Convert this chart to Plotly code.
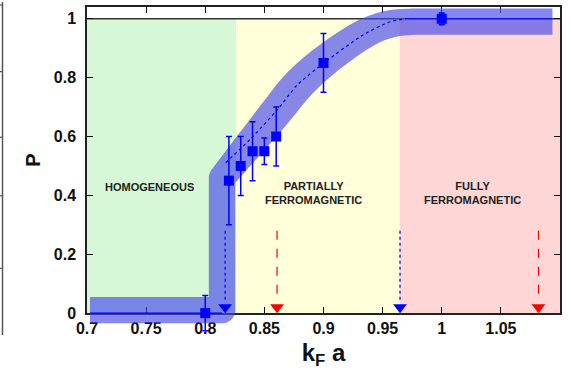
import math
import plotly.graph_objects as go

# Measured polarization P against k_F a, with error bars
kfa = [0.80, 0.82, 0.83, 0.84, 0.85, 0.86, 0.90, 1.00]
pol = [0.00, 0.45, 0.50, 0.55, 0.55, 0.60, 0.85, 1.00]
pol_err = [0.06, 0.15, 0.10, 0.10, 0.045, 0.10, 0.10, 0.02]

# Centre line of the broad guide band
band_x = [0.7025, 0.8142, 0.8142, 0.8378, 0.8608, 0.8777, 0.8996, 0.9334, 0.9562, 0.975, 1.0936]
band_p = [0.01, 0.01, 0.46, 0.575, 0.6875, 0.775, 0.855, 0.951, 0.985, 0.99, 0.99]
# half thickness of the band along the centre line, in pixels
band_half_px = [13.2, 13.2, 13.2, 15.0, 16.5, 16.5, 16.0, 15.0, 13.8, 13.2, 13.2]

# thin guide curve: dotted over the rise, solid on the plateaus
guide_x = [0.8173, 0.8378, 0.8608, 0.8777, 0.90, 0.9334, 0.9562, 0.97]
guide_p = [0.511, 0.59, 0.69, 0.775, 0.849, 0.945, 0.99, 1.0]
low_plateau_x = [0.7025, 0.8142]
high_plateau_x = [0.97, 1.0936]

# Phase regions
phase_edges = [0.70, 0.826, 0.9645, 1.10]
phase_names = ["HOMOGENEOUS", "PARTIALLY<br>FERROMAGNETIC", "FULLY<br>FERROMAGNETIC"]

# Critical k_F a values marked with arrows
crit_x = [0.8168, 0.8607, 0.9647, 1.0818]
crit_kind = ["blue", "red", "blue", "red"]

# Axis ticks
x_ticks = [0.7, 0.75, 0.8, 0.85, 0.9, 0.95, 1.0, 1.05, 1.1]
x_ticktext = ["0.7", "0.75", "0.8", "0.85", "0.9", "0.95", "1", "1.05", "1.1"]
y_ticks = [0, 0.2, 0.4, 0.6, 0.8, 1.0]
y_ticktext = ["0", "0.2", "0.4", "0.6", "0.8", "1"]

W, H = 571, 372
ML, MR, MT, MB = 87, 11, 5, 39
PLOT_W = W - ML - MR
PLOT_H = H - MT - MB
AXIS_PX = 313              # pixel row of the P = 0 axis
X_RANGE = [0.7, 1.1]
Y_TOP = 1.04
y_dom0 = (H - MB - AXIS_PX) / PLOT_H
py_per_unit = (AXIS_PX - MT) / Y_TOP
px_per_unit = PLOT_W / (X_RANGE[1] - X_RANGE[0])
y2_low = Y_TOP - PLOT_H / py_per_unit

FONT = "Liberation Sans, Arial, sans-serif"
BLUE = "#0000ff"
RED = "#ff0000"
REGION_COLORS = ["#d6f8d6", "#ffffd9", "#ffd6d6"]


def chaikin(xs, ys, ws, start, stop, passes=2):
    """Corner-cutting on the section start..stop so the rise is drawn smoothly."""
    sx, sy, sw = xs[start:stop + 1], ys[start:stop + 1], ws[start:stop + 1]
    for _ in range(passes):
        nx, ny, nw = [sx[0]], [sy[0]], [sw[0]]
        for i in range(len(sx) - 1):
            for t in (0.25, 0.75):
                nx.append(sx[i] + t * (sx[i + 1] - sx[i]))
                ny.append(sy[i] + t * (sy[i + 1] - sy[i]))
                nw.append(sw[i] + t * (sw[i + 1] - sw[i]))
        nx.append(sx[-1]); ny.append(sy[-1]); nw.append(sw[-1])
        sx, sy, sw = nx, ny, nw
    return (xs[:start] + sx + xs[stop + 1:], ys[:start] + sy + ys[stop + 1:],
            ws[:start] + sw + ws[stop + 1:])


def band_outline(xs, ps, half_px, round_deg=20, arc_step=6):
    """Outline of a variable-width stroke: mitred inner corners, round outer corners."""
    X = [x * px_per_unit for x in xs]
    Y = [p * py_per_unit for p in ps]
    n = len(X)
    dirs = []
    for i in range(n - 1):
        dx, dy = X[i + 1] - X[i], Y[i + 1] - Y[i]
        L = math.hypot(dx, dy)
        dirs.append((dx / L, dy / L))
    left, right = [], []
    for i in range(n):
        h = half_px[i]
        if i == 0 or i == n - 1:
            d = dirs[0] if i == 0 else dirs[-1]
            nx, ny = -d[1], d[0]
            left.append((X[i] + h * nx, Y[i] + h * ny))
            right.append((X[i] - h * nx, Y[i] - h * ny))
            continue
        da, db = dirs[i - 1], dirs[i]
        na, nb = (-da[1], da[0]), (-db[1], db[0])
        dot = da[0] * db[0] + da[1] * db[1]
        cross = da[0] * db[1] - da[1] * db[0]
        mx, my = (na[0] + nb[0]) * h / (1 + dot), (na[1] + nb[1]) * h / (1 + dot)
        turn = math.degrees(math.acos(max(-1.0, min(1.0, dot))))
        if turn < round_deg:
            left.append((X[i] + mx, Y[i] + my))
            right.append((X[i] - mx, Y[i] - my))
            continue
        a0, a1 = math.atan2(na[1], na[0]), math.atan2(nb[1], nb[0])
        if cross > 0:
            # left turn: right side is the outer side
            a0 += math.pi
            a1 += math.pi
        da_ang = (a1 - a0 + math.pi) % (2 * math.pi) - math.pi
        steps = max(2, int(abs(math.degrees(da_ang)) / arc_step))
        arc = [(X[i] + h * math.cos(a0 + da_ang * k / steps),
                Y[i] + h * math.sin(a0 + da_ang * k / steps)) for k in range(steps + 1)]
        if cross > 0:
            left.append((X[i] + mx, Y[i] + my))
            right.extend(arc)
        else:
            right.append((X[i] - mx, Y[i] - my))
            left.extend(arc)
    ring = left + right[::-1] + [left[0]]
    return [q[0] / px_per_unit for q in ring], [q[1] / py_per_unit for q in ring]


fig = go.Figure()

# reference line P = 1
fig.add_trace(go.Scatter(x=X_RANGE, y=[1, 1], mode="lines",
                         line=dict(color="#333333", width=1.5),
                         xaxis="x", yaxis="y", hoverinfo="skip", showlegend=False))

# broad translucent band
cx_s, cp_s, cw_s = chaikin(band_x, band_p, band_half_px, 2, len(band_x) - 2)
ox, op = band_outline(cx_s, cp_s, cw_s)
fig.add_trace(go.Scatter(x=ox, y=op, mode="lines", fill="toself",
                         fillcolor="rgba(70,70,235,0.65)",
                         line=dict(width=0, color="rgba(0,0,0,0)", simplify=False),
                         xaxis="x", yaxis="y2", hoverinfo="skip", showlegend=False))

# thin guide curve
fig.add_trace(go.Scatter(x=low_plateau_x, y=[0, 0], mode="lines",
                         line=dict(color=BLUE, width=1.2),
                         xaxis="x", yaxis="y2", showlegend=False))
fig.add_trace(go.Scatter(x=high_plateau_x, y=[1, 1], mode="lines",
                         line=dict(color=BLUE, width=1.2),
                         xaxis="x", yaxis="y2", showlegend=False))
fig.add_trace(go.Scatter(x=guide_x, y=guide_p, mode="lines",
                         line=dict(color=BLUE, width=1.2, dash="dot", shape="spline",
                                   smoothing=0.6),
                         xaxis="x", yaxis="y2", showlegend=False))

# arrows marking critical values
for cx, kind in zip(crit_x, crit_kind):
    col = BLUE if kind == "blue" else RED
    fig.add_trace(go.Scatter(x=[cx, cx], y=[0.28, 0.04], mode="lines",
                             line=dict(color=col, width=1.2,
                                       dash="dot" if kind == "blue" else "dash"),
                             xaxis="x", yaxis="y2", showlegend=False))
    fig.add_trace(go.Scatter(x=[cx], y=[0.02], mode="markers",
                             marker=dict(symbol="triangle-down", size=12, color=col),
                             cliponaxis=False, xaxis="x", yaxis="y2", showlegend=False))

# data points
fig.add_trace(go.Scatter(x=kfa, y=pol, mode="markers",
                         marker=dict(symbol="square", size=10, color=BLUE),
                         error_y=dict(type="data", array=pol_err, color=BLUE,
                                      thickness=1.5, width=3),
                         cliponaxis=False, xaxis="x", yaxis="y2", showlegend=False))

# phase region backgrounds
for i, col in enumerate(REGION_COLORS):
    fig.add_shape(type="rect", xref="x", yref="y",
                  x0=phase_edges[i], x1=phase_edges[i + 1], y0=0, y1=1,
                  fillcolor=col, line_width=0, layer="below")

label_pos = [(0.753, 0.43), (0.8914, 0.409), (1.026, 0.409)]
for name, (lx, ly) in zip(phase_names, label_pos):
    fig.add_annotation(x=lx, y=ly, xref="x", yref="y", text=name, showarrow=False,
                       font=dict(family=FONT, size=11, color="#222222", weight="bold"))


# edge of the neighbouring panel
def px_x(p):
    return (p - ML) / PLOT_W


def px_y(p):
    return (H - MB - p) / PLOT_H


fig.add_shape(type="line", xref="paper", yref="paper",
              x0=px_x(2.5), x1=px_x(2.5), y0=px_y(0), y1=px_y(335),
              line=dict(color="#555555", width=1.5))
for ty in [3, 70, 136, 195, 268]:
    fig.add_shape(type="line", xref="paper", yref="paper",
                  x0=px_x(0), x1=px_x(3), y0=px_y(ty), y1=px_y(ty),
                  line=dict(color="#555555", width=1.2))

tickfont = dict(family=FONT, size=16, color="#111111", weight="bold")
fig.update_layout(
    width=W, height=H,
    margin=dict(l=ML, r=MR, t=MT, b=MB),
    paper_bgcolor="white", plot_bgcolor="rgba(0,0,0,0)",
    showlegend=False,
    xaxis=dict(range=X_RANGE, anchor="y", tickvals=x_ticks, ticktext=x_ticktext,
               ticks="inside", ticklen=6, tickcolor="#111111", tickwidth=1.2,
               showline=True, linecolor="#222222", linewidth=1.5, mirror="ticks",
               showgrid=False, zeroline=False, tickfont=tickfont,
               title=dict(text="k<sub>F</sub> a", standoff=8,
                          font=dict(family=FONT, size=24, color="#111111", weight="bold"))),
    yaxis=dict(range=[0, Y_TOP], domain=[y_dom0, 1], anchor="x",
               tickvals=y_ticks, ticktext=y_ticktext, ticklabelstandoff=6,
               ticks="inside", ticklen=6, tickcolor="#111111", tickwidth=1.2,
               showline=True, linecolor="#222222", linewidth=1.5, mirror="ticks",
               showgrid=False, zeroline=False, tickfont=tickfont,
               title=dict(text="P", standoff=8,
                          font=dict(family=FONT, size=20, color="#111111", weight="bold"))),
    yaxis2=dict(range=[y2_low, Y_TOP], domain=[0, 1], anchor="x", visible=False,
                showgrid=False, zeroline=False),
)

fig.write_html("out.html")
